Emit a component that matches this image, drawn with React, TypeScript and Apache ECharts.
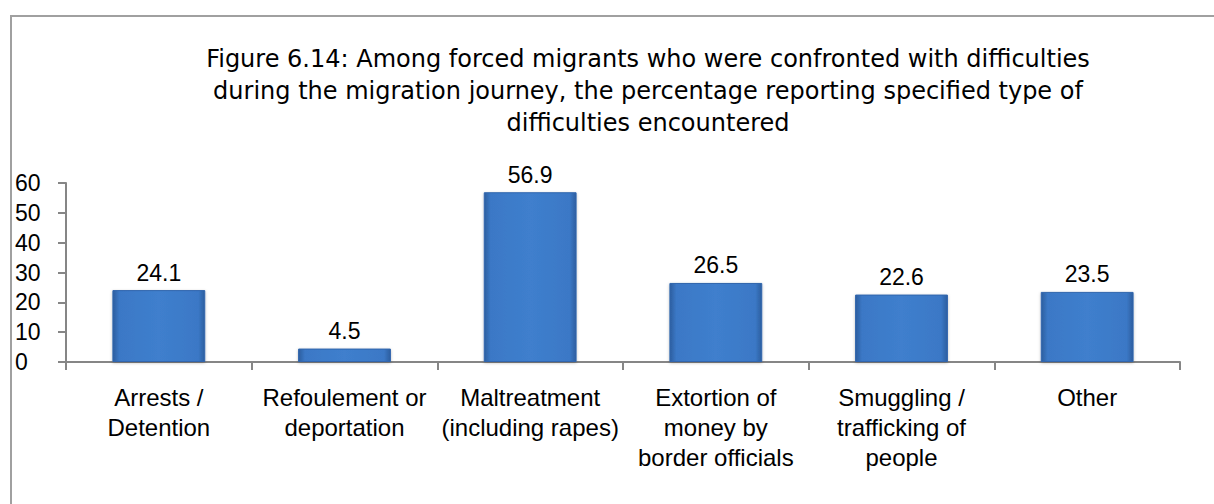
import React, { useEffect, useRef } from "react";
import * as echarts from "echarts";

const categories = [
  "Arrests /\nDetention",
  "Refoulement or\ndeportation",
  "Maltreatment\n(including rapes)",
  "Extortion of\nmoney by\nborder officials",
  "Smuggling /\ntrafficking of\npeople",
  "Other",
];
const values = [24.1, 4.5, 56.9, 26.5, 22.6, 23.5];
const titleText =
  "Figure 6.14: Among forced migrants who were confronted with difficulties\nduring the migration journey, the percentage reporting specified type of\ndifficulties encountered";

export default function App() {
  const ref = useRef<HTMLDivElement>(null);
  useEffect(() => {
    if (!ref.current) return;
    const chart = echarts.init(ref.current, undefined, { renderer: "svg" });
    const font = "'Liberation Sans', Arial, sans-serif";
    chart.setOption({
      animation: false,
      backgroundColor: "#ffffff",
      title: {
        text: titleText,
        left: 643,
        top: 38,
        textAlign: "center",
        textStyle: {
          fontFamily: "'DejaVu Sans', sans-serif",
          fontSize: 24,
          fontWeight: "normal",
          color: "#000",
          lineHeight: 32,
        },
      },
      graphic: [
        {
          type: "rect",
          shape: { x: 11, y: 16, width: 1400, height: 700 },
          style: { fill: "none", stroke: "#a0a0a0", lineWidth: 2 },
          silent: true,
          z: -1,
        },
      ],
      grid: { left: 66, right: 34, top: 183, bottom: 142 },
      xAxis: {
        type: "category",
        data: categories,
        axisLine: { lineStyle: { color: "#868686", width: 2 } },
        axisTick: { show: true, length: 8, lineStyle: { color: "#868686", width: 2 } },
        axisLabel: {
          interval: 0,
          margin: 20,
          fontFamily: font,
          fontSize: 24,
          lineHeight: 30,
          color: "#000",
        },
      },
      yAxis: {
        type: "value",
        min: 0,
        max: 60,
        interval: 10,
        splitLine: { show: false },
        axisLine: { show: true, lineStyle: { color: "#868686", width: 2 } },
        axisTick: { show: true, length: 8, lineStyle: { color: "#868686", width: 2 } },
        axisLabel: {
          align: "left",
          margin: 51,
          fontFamily: font,
          fontSize: 23,
          color: "#000",
        },
      },
      series: [
        {
          type: "bar",
          data: values,
          barWidth: "50%",
          itemStyle: {
            color: new echarts.graphic.LinearGradient(0, 0, 1, 0, [
              { offset: 0, color: "#2c5e9f" },
              { offset: 0.07, color: "#3b78c6" },
              { offset: 0.5, color: "#3f7fcd" },
              { offset: 0.93, color: "#3b78c6" },
              { offset: 1, color: "#2c5e9f" },
            ]),
            borderColor: "#3065ad",
            borderWidth: 1,
            shadowColor: "rgba(0,0,0,0.25)",
            shadowBlur: 3,
            shadowOffsetY: 1,
          },
          label: {
            show: true,
            position: "top",
            distance: 6,
            fontFamily: font,
            fontSize: 23,
            color: "#000",
          },
        },
      ],
    });
    return () => chart.dispose();
  }, []);
  return (
    <div
      ref={ref}
      style={{ position: "fixed", left: 0, top: 0, width: 1214, height: 504 }}
    />
  );
}
